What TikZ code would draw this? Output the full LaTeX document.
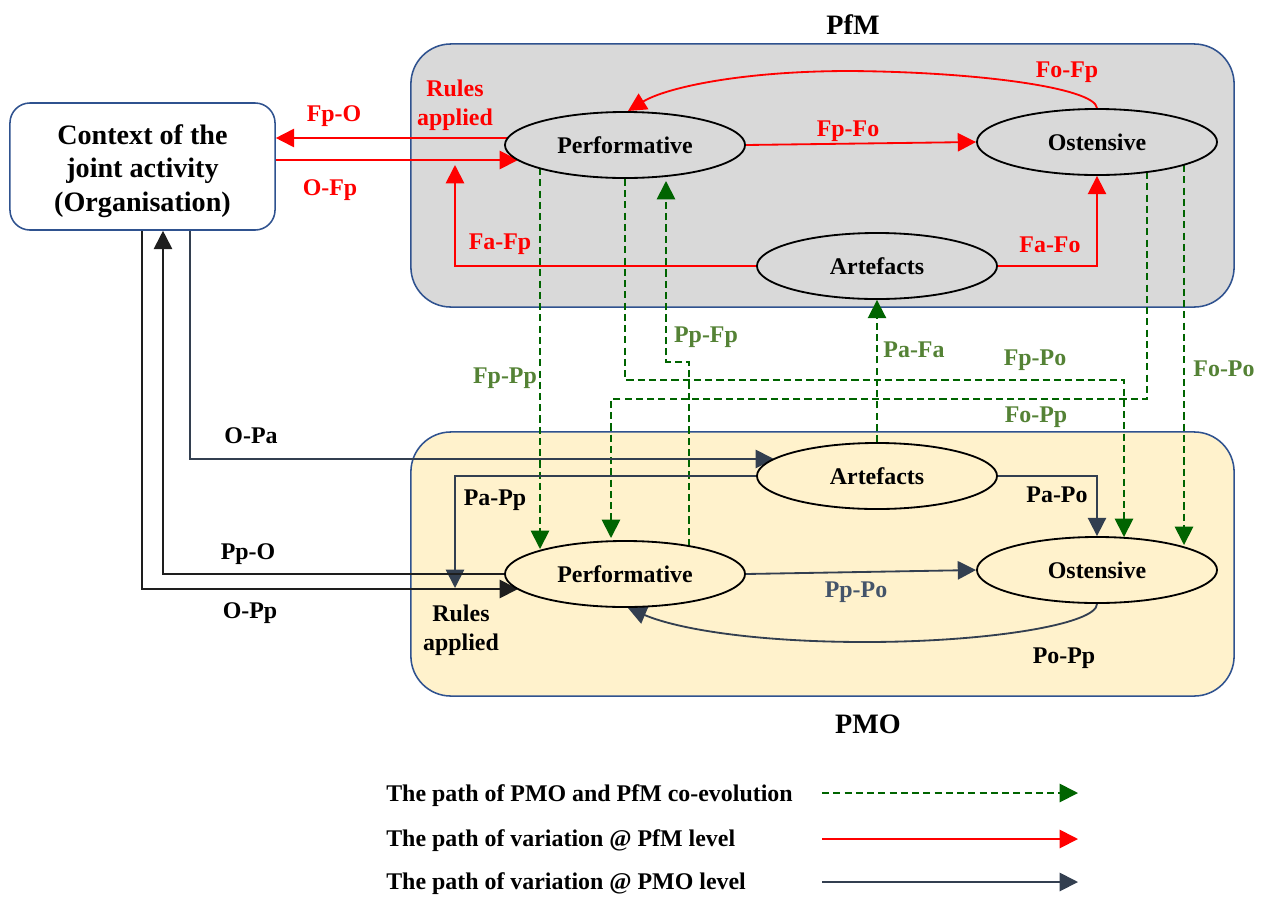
\documentclass[tikz,border=0pt]{standalone}
\usepackage{fontspec}
\setmainfont{Liberation Serif}
\usetikzlibrary{arrows.meta,calc,shapes.geometric}
\definecolor{boxblue}{RGB}{47,82,143}
\definecolor{pfmgray}{RGB}{217,217,217}
\definecolor{pmoyellow}{RGB}{255,242,204}
\definecolor{pfred}{RGB}{255,0,0}
\definecolor{cogreen}{RGB}{0,100,0}
\definecolor{lblgreen}{RGB}{84,130,53}
\definecolor{slate}{RGB}{51,63,80}
\definecolor{slatelbl}{RGB}{68,84,106}
\definecolor{nearblack}{RGB}{30,30,30}
\pgfdeclarelayer{bg}
\pgfdeclarelayer{lines}
\pgfsetlayers{bg,lines,main}
\begin{document}
\begin{tikzpicture}[x=0.025cm,y=-0.025cm,
  lbl/.style={font=\fontsize{17}{20.6}\selectfont\bfseries, inner sep=0pt, yshift=-2pt},
  bigtxt/.style={font=\fontsize{20}{23.8}\selectfont\bfseries, inner sep=0pt, align=center},
  ell/.style={ellipse, draw=black, line width=1.3pt, minimum width=6cm, minimum height=1.65cm, inner sep=0pt, font=\fontsize{17}{20}\selectfont\bfseries},
  container/.style={draw=boxblue, line width=1.1pt, rounded corners=1cm, inner sep=0pt},
  tip/.style={-{Triangle[length=13pt,width=13pt]}},
  redln/.style={draw=pfred, line width=1.3pt, tip},
  grnln/.style={draw=cogreen, line width=1.3pt, dash pattern=on 5pt off 3pt, tip},
  slateln/.style={draw=slate, line width=1.3pt, tip},
  blackln/.style={draw=nearblack, line width=1.3pt, tip},
  redlbl/.style={lbl, text=pfred},
  grnlbl/.style={lbl, text=lblgreen},
  blklbl/.style={lbl, text=black}
]
\useasboundingbox (0,0) rectangle (1264,896);
\begin{pgfonlayer}{bg}
  \fill[white] (0,0) rectangle (1264,896);
  \node[container, fill=pfmgray, minimum width=20.575cm, minimum height=6.575cm] (PfMbox) at (822.5,175.5) {};
  \node[container, fill=pmoyellow, minimum width=20.575cm, minimum height=6.6cm] (PMObox) at (822.5,564) {};
\end{pgfonlayer}

% titles
\node[bigtxt, yshift=-1.5pt] (tPfM) at (853,22) {PfM};
\node[bigtxt, yshift=-1.5pt] (tPMO) at (868,722) {PMO};

% context box
\node[draw=boxblue, line width=1.1pt, fill=white, rounded corners=0.5cm,
      minimum width=6.625cm, minimum height=3.175cm] (CB) at (142.5,166.5) {};
\node[bigtxt] (CBtext) at (142.5,171) {Context of the\\joint activity\\(Organisation)};

% ellipses
\node[ell, fill=pfmgray] (PfF) at (625,145) {Performative};
\node[ell, fill=pfmgray] (PoF) at (1097,142) {Ostensive};
\node[ell, fill=pfmgray] (PaF) at (877,266) {Artefacts};
\node[ell, fill=pmoyellow] (PaP) at (877,476) {Artefacts};
\node[ell, fill=pmoyellow] (PpP) at (625,574) {Performative};
\node[ell, fill=pmoyellow] (PoP) at (1097,570) {Ostensive};

\begin{pgfonlayer}{lines}
  % red: variation at PfM level
  \coordinate (fpo) at ($(PfF.center)+(-117,-7)$);
  \draw[redln] (fpo) -- (fpo -| CB.east);
  \coordinate (ofp) at ($(PfF.center)+(-107,15)$);
  \draw[redln] (ofp -| CB.east) -- (ofp);
  \draw[redln] (PfF.east) -- (PoF.west);
  \coordinate (fofpTop) at (850,71);
  \draw[redln] (PoF.north) .. controls +(-2,-20) and (980,72) .. (fofpTop)
        .. controls (740,71) and (665,88) .. ($(PfF.center)+(3,-34)$);
  \coordinate (fafpE) at (455,165);
  \draw[redln] (PaF.west) -| (fafpE);
  \draw[redln] (PaF.east) -| (PoF.south);

  % green: co-evolution
  \draw[grnln] ($(PfF.center)+(-85,23)$) -- ($(PpP.center)+(-85,-25)$);
  \draw[grnln] (PfF.south) -- ++(0,201) -| ($(PoP.center)+(27,-33)$);
  \draw[grnln] ($(PpP.center)+(64,-28)$) -- ++(0,-184) -- ++(-23,0) -- ($(PfF.center)+(41,36)$);
  \draw[grnln] (PaP.north) -- (PaF.south);
  \draw[grnln] ($(PoF.center)+(50,30)$) -- ++(0,227) -| ($(PpP.center)+(-14,-36)$);
  \draw[grnln] ($(PoF.center)+(87,23)$) -- ($(PoP.center)+(87,-25)$);

  % slate: variation at PMO level
  \coordinate (opa) at ($(PaP.center)+(-103,-17)$);
  \draw[slateln] ($(CB.south)+(47.5,0)$) |- (opa);
  \coordinate (pappE) at (455,588);
  \draw[slateln] (PaP.west) -| (pappE);
  \draw[blackln] (PpP.west) -| ($(CB.south)+(20.5,0)$);
  \coordinate (opp) at ($(PpP.center)+(-107,15)$);
  \draw[blackln] ($(CB.south)+(-0.5,0)$) |- (opp);
  \draw[slateln] (PpP.east) -- (PoP.west);
  \draw[slateln] (PaP.east) -| (PoP.north);
  \coordinate (poppLow) at (865,642);
  \draw[slateln] (PoP.south) .. controls +(0,20) and (990,642) .. (poppLow)
        .. controls (760,642) and (680,630) .. ($(PpP.center)+(3,34)$);
\end{pgfonlayer}

% red labels
\node[redlbl, align=center] (rulesF) at (455,102.5) {Rules\\applied};
\node[redlbl] (lFpO) at (334,113) {Fp-O};
\node[redlbl] (lOFp) at (330,187) {O-Fp};
\node[redlbl] (lFpFo) at (848,128) {Fp-Fo};
\node[redlbl] (lFoFp) at (1067,69) {Fo-Fp};
\node[redlbl] (lFaFp) at (500,241) {Fa-Fp};
\node[redlbl] (lFaFo) at (1050,242) {Fa-Fo};

% green labels
\node[grnlbl] (lFpPp) at (505,375) {Fp-Pp};
\node[grnlbl] (lPpFp) at (706,334) {Pp-Fp};
\node[grnlbl] (lPaFa) at (914,347) {Pa-Fa};
\node[grnlbl] (lFpPo) at (1035,357) {Fp-Po};
\node[grnlbl] (lFoPp) at (1036,414) {Fo-Pp};
\node[grnlbl] (lFoPo) at (1224,366) {Fo-Po};

% black / slate labels
\node[blklbl] (lOPa) at (251,433) {O-Pa};
\node[blklbl] (lPaPp) at (495,497) {Pa-Pp};
\node[blklbl] (lPpO) at (248,551) {Pp-O};
\node[blklbl] (lOPp) at (250,610) {O-Pp};
\node[blklbl, align=center] (rulesP) at (461,627.5) {Rules\\applied};
\node[blklbl] (lPaPo) at (1057,492) {Pa-Po};
\node[lbl, text=slatelbl] (lPpPo) at (856,589) {Pp-Po};
\node[blklbl] (lPoPp) at (1064,655) {Po-Pp};

% legend
\node[blklbl, anchor=west] (leg1) at (386,793) {The path of PMO and PfM co-evolution};
\node[blklbl, anchor=west] (leg2) at (386,838) {The path of variation @ PfM level};
\node[blklbl, anchor=west] (leg3) at (386,881) {The path of variation @ PMO level};
\coordinate (l1a) at (822,793); \coordinate (l1b) at (1078,793);
\coordinate (l2a) at (822,839); \coordinate (l2b) at (1078,839);
\coordinate (l3a) at (822,882); \coordinate (l3b) at (1078,882);
\draw[grnln] (l1a) -- (l1b);
\draw[redln] (l2a) -- (l2b);
\draw[slateln] (l3a) -- (l3b);
\end{tikzpicture}
\end{document}
